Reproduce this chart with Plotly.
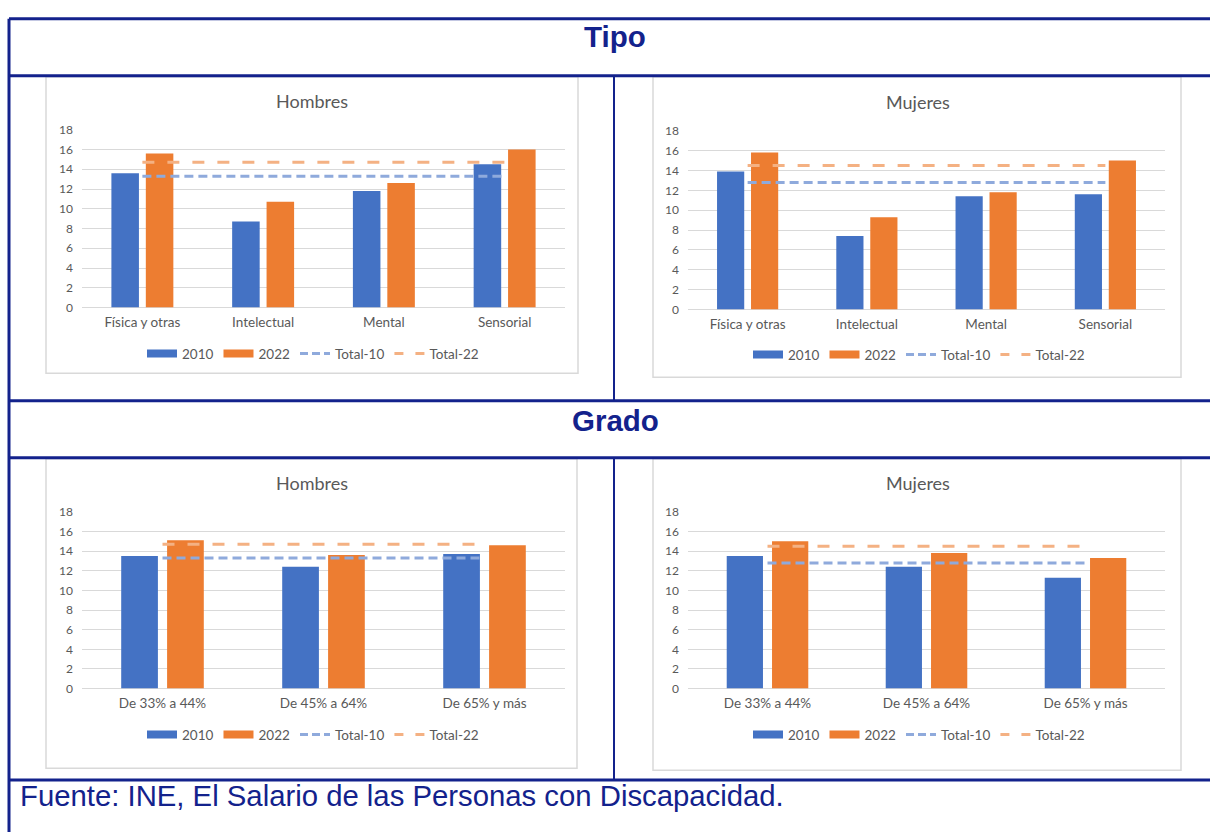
import plotly.graph_objects as go

W, H = 1210, 839

# ---------------- data ----------------
TIPO_CATS = ["Física y otras", "Intelectual", "Mental", "Sensorial"]
GRADO_CATS = ["De 33% a 44%", "De 45% a 64%", "De 65% y más"]

H_TIPO_2010 = [13.6, 8.7, 11.8, 14.5]
H_TIPO_2022 = [15.6, 10.7, 12.6, 16.0]
M_TIPO_2010 = [13.9, 7.4, 11.4, 11.6]
M_TIPO_2022 = [15.8, 9.3, 11.8, 15.0]

H_GRADO_2010 = [13.5, 12.4, 13.7]
H_GRADO_2022 = [15.1, 13.6, 14.6]
M_GRADO_2010 = [13.5, 12.4, 11.3]
M_GRADO_2022 = [15.0, 13.8, 13.3]

H_TOTAL_10 = 13.3
H_TOTAL_22 = 14.7
M_TOTAL_10 = 12.8
M_TOTAL_22 = 14.5

Y_TICKS = [0, 2, 4, 6, 8, 10, 12, 14, 16, 18]
SERIES_NAMES = ["2010", "2022", "Total-10", "Total-22"]

# ---------------- style ----------------
BLUE = "#4472C4"
ORANGE = "#ED7D31"
LBLUE = "#8FAADC"
LORANGE = "#F4B183"
GRID = "#D9D9D9"
TXT = "#595959"
NAVY = "#13228C"
CFONT = "Lato"
TFONT = "Liberation Sans"


def px(x):
    return x / W


def py(y):
    return 1 - y / H


fig = go.Figure()

charts = [
    ("", TIPO_CATS, H_TIPO_2010, H_TIPO_2022, H_TOTAL_10, H_TOTAL_22, "Hombres",
     (82, 565, 124, 305), (313, 352), (312, 95)),
    ("2", TIPO_CATS, M_TIPO_2010, M_TIPO_2022, M_TOTAL_10, M_TOTAL_22, "Mujeres",
     (688, 1165, 125, 307), (919, 353), (918, 96)),
    ("3", GRADO_CATS, H_GRADO_2010, H_GRADO_2022, H_TOTAL_10, H_TOTAL_22, "Hombres",
     (82, 565, 513, 693), (313, 740), (312, 484)),
    ("4", GRADO_CATS, M_GRADO_2010, M_GRADO_2022, M_TOTAL_10, M_TOTAL_22, "Mujeres",
     (688, 1165, 513, 693), (919, 740), (918, 484)),
]

annotations = []
layout_axes = {}
for suf, cats, v10, v22, t10, t22, title, box, leg, tpos in charts:
    xa = "x" + suf
    ya = "y" + suf
    lg = "legend" + suf
    fig.add_trace(go.Bar(x=cats, y=v10, name="2010", marker=dict(color=BLUE, line=dict(width=0)),
                         xaxis=xa, yaxis=ya, showlegend=False))
    fig.add_trace(go.Bar(x=cats, y=v22, name="2022", marker=dict(color=ORANGE, line=dict(width=0)),
                         xaxis=xa, yaxis=ya, showlegend=False))
    fig.add_trace(go.Scatter(x=cats, y=[t10] * len(cats), name="Total-10", mode="lines",
                             line=dict(color=LBLUE, width=3, dash="9px,5px"),
                             xaxis=xa, yaxis=ya, showlegend=False))
    fig.add_trace(go.Scatter(x=cats, y=[t22] * len(cats), name="Total-22", mode="lines",
                             line=dict(color=LORANGE, width=3, dash="12px,13px"),
                             xaxis=xa, yaxis=ya, showlegend=False))
    legend_styles = [dict(color=BLUE, width=8), dict(color=ORANGE, width=8),
                     dict(color=LBLUE, width=3, dash="8px,4px"),
                     dict(color=LORANGE, width=3, dash="9px,12px")]
    for nm, st in zip(SERIES_NAMES, legend_styles):
        fig.add_trace(go.Scatter(x=[None], y=[None], name=nm, mode="lines", line=st,
                                 xaxis=xa, yaxis=ya, legend=lg, showlegend=True))

    x0, x1, yt, yb = box
    layout_axes["xaxis" + suf] = dict(
        domain=[px(x0), px(x1)], anchor=ya, type="category", showgrid=False, showline=False,
        zeroline=False, ticks="", tickfont=dict(family=CFONT, size=13.5, color=TXT),
        ticklabelstandoff=5, fixedrange=True)
    layout_axes["yaxis" + suf] = dict(
        domain=[py(yb), py(yt)], anchor=xa, range=[0, 18], tickvals=Y_TICKS,
        showgrid=True, gridcolor=GRID, gridwidth=1, zeroline=True, zerolinecolor=GRID,
        zerolinewidth=1, showline=False, ticks="",
        tickfont=dict(family=CFONT, size=12, color=TXT), ticklabelstandoff=8, fixedrange=True)
    layout_axes[lg] = dict(
        orientation="h", x=px(leg[0]), xanchor="center", y=py(leg[1]), yanchor="middle",
        font=dict(family=CFONT, size=13.5, color=TXT), bgcolor="rgba(0,0,0,0)",
        itemwidth=30, entrywidth=0, traceorder="normal", itemclick=False, itemdoubleclick=False)
    annotations.append(dict(text=title, x=px(tpos[0]), y=py(tpos[1]), xref="paper", yref="paper",
                            xanchor="center", yanchor="middle", showarrow=False,
                            font=dict(family=CFONT, size=18, color=TXT)))

annotations.append(dict(text="<b>Tipo</b>", x=px(615), y=py(29), xref="paper", yref="paper",
                        xanchor="center", yanchor="middle", showarrow=False,
                        font=dict(family=TFONT, size=29.5, color=NAVY)))
annotations.append(dict(text="<b>Grado</b>", x=px(615), y=py(420), xref="paper", yref="paper",
                        xanchor="center", yanchor="middle", showarrow=False,
                        font=dict(family=TFONT, size=29.5, color=NAVY)))
annotations.append(dict(text="Fuente: INE, El Salario de las Personas con Discapacidad.",
                        x=px(18), y=py(802), xref="paper", yref="paper",
                        xanchor="left", yanchor="middle", showarrow=False,
                        font=dict(family=TFONT, size=29.3, color=NAVY)))

shapes = []
for (bx0, by0, bx1, by1) in [(46, 70, 578, 372), (653, 70, 1181, 376),
                             (46, 459, 577, 774), (653, 459, 1181, 776)]:
    shapes.append(dict(type="rect", xref="paper", yref="paper", x0=px(bx0), x1=px(bx1),
                       y0=py(by1), y1=py(by0), line=dict(color=GRID, width=1.5),
                       fillcolor="rgba(0,0,0,0)", layer="below"))
for yy in [11, 69, 400, 458, 786]:
    shapes.append(dict(type="line", xref="paper", yref="paper", x0=px(9), x1=1,
                       y0=py(yy), y1=py(yy), line=dict(color=NAVY, width=3)))
shapes.append(dict(type="line", xref="paper", yref="paper", x0=px(9), x1=px(9),
                   y0=py(11), y1=0, line=dict(color=NAVY, width=3)))
for (ya0, ya1) in [(69, 400), (458, 786)]:
    shapes.append(dict(type="line", xref="paper", yref="paper", x0=px(614), x1=px(614),
                       y0=py(ya0), y1=py(ya1), line=dict(color=NAVY, width=2)))

fig.update_layout(
    width=W, height=H, margin=dict(l=0, r=0, t=0, b=0),
    paper_bgcolor="white", plot_bgcolor="rgba(0,0,0,0)",
    barmode="group", bargap=0.43, bargroupgap=0.2,
    annotations=annotations, shapes=shapes, hovermode=False,
    **layout_axes,
)

fig.write_html("out.html", config={"displayModeBar": False},
               post_script="document.body.style.margin='0';document.body.style.overflow='hidden';")
